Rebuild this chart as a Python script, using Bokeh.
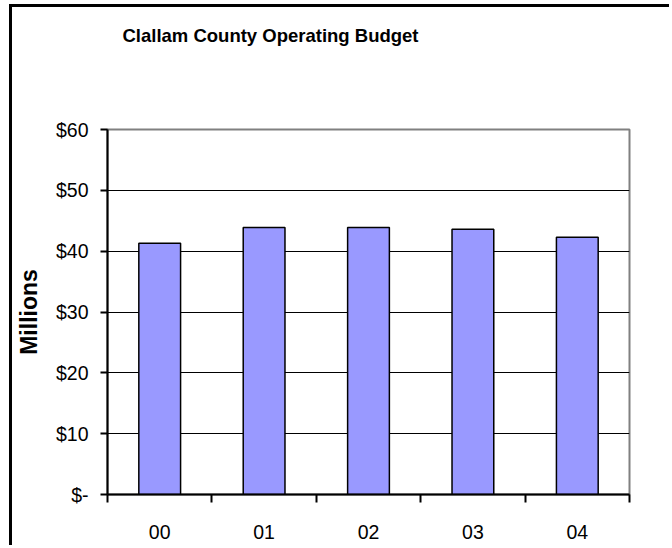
from bokeh.plotting import figure
from bokeh.models import FixedTicker, Range1d, Title
from bokeh.embed import file_html
from bokeh.resources import INLINE

chart_title = "Clallam County Operating Budget"
categories = ["00", "01", "02", "03", "04"]
budget_millions = [41.3, 43.9, 43.9, 43.6, 42.3]
y_ticks = [0, 10, 20, 30, 40, 50, 60]
y_tick_labels = ["$-", "$10", "$20", "$30", "$40", "$50", "$60"]
y_axis_title = "Millions"

x_centers = [i + 0.5 for i in range(len(categories))]
x_bounds = list(range(len(categories) + 1))

FONT = "Liberation Sans"

p = figure(width=660, height=541, output_backend="svg", toolbar_location=None, title=None,
           x_range=Range1d(0, len(categories)), y_range=Range1d(y_ticks[0], y_ticks[-1]),
           min_border_left=95, min_border_right=43, min_border_top=122, min_border_bottom=54,
           background_fill_color="white", border_fill_color="white")

p.styles = {"margin-left": "9px", "margin-top": "4px",
            "border-left": "3px solid black", "border-top": "3px solid black"}

# spacer between the title and the plot frame (closest to frame, added first)
p.add_layout(Title(text=" ", text_font_size="1px", standoff=81), "above")
p.add_layout(Title(text=chart_title, text_font=FONT, text_font_size="18.5px",
                   text_font_style="bold", text_color="black", align="left",
                   vertical_align="bottom", offset=15, standoff=0), "above")

p.vbar(x=x_centers, top=budget_millions, width=0.4, bottom=0,
       fill_color="#9999FF", line_color="black", line_width=1.5)

# x axis
xa = p.xaxis[0]
xa.ticker = FixedTicker(ticks=x_centers, minor_ticks=x_bounds)
xa.major_label_overrides = {c: lab for c, lab in zip(x_centers, categories)}
xa.major_tick_out = 0
xa.major_tick_in = 0
xa.minor_tick_out = 8
xa.minor_tick_in = 0
xa.minor_tick_line_color = "black"
xa.minor_tick_line_width = 2
xa.axis_line_color = "black"
xa.axis_line_width = 2
xa.major_label_text_font = FONT
xa.major_label_text_font_size = "19.5px"
xa.major_label_text_color = "black"
xa.major_label_standoff = 22

# y axis
ya = p.yaxis[0]
ya.ticker = FixedTicker(ticks=y_ticks)
ya.major_label_overrides = {t: lab for t, lab in zip(y_ticks, y_tick_labels)}
ya.major_tick_out = 7
ya.major_tick_in = 0
ya.minor_tick_out = 0
ya.minor_tick_in = 0
ya.major_tick_line_color = "black"
ya.major_tick_line_width = 2
ya.axis_line_color = "black"
ya.axis_line_width = 2
ya.major_label_text_font = FONT
ya.major_label_text_font_size = "19.5px"
ya.major_label_text_color = "black"
ya.major_label_standoff = 12
ya.axis_label = y_axis_title
ya.axis_label_text_font = FONT
ya.axis_label_text_font_size = "23px"
ya.axis_label_text_font_style = "bold"
ya.axis_label_text_color = "black"
ya.axis_label_standoff = 11

p.xgrid.visible = False
p.ygrid.ticker = FixedTicker(ticks=y_ticks[1:-1])
p.ygrid.grid_line_color = "black"
p.ygrid.grid_line_width = 1

p.outline_line_color = "#808080"
p.outline_line_width = 2
p.outline_line_alpha = 1.0

open("out.html", "w").write(file_html(p, INLINE))
